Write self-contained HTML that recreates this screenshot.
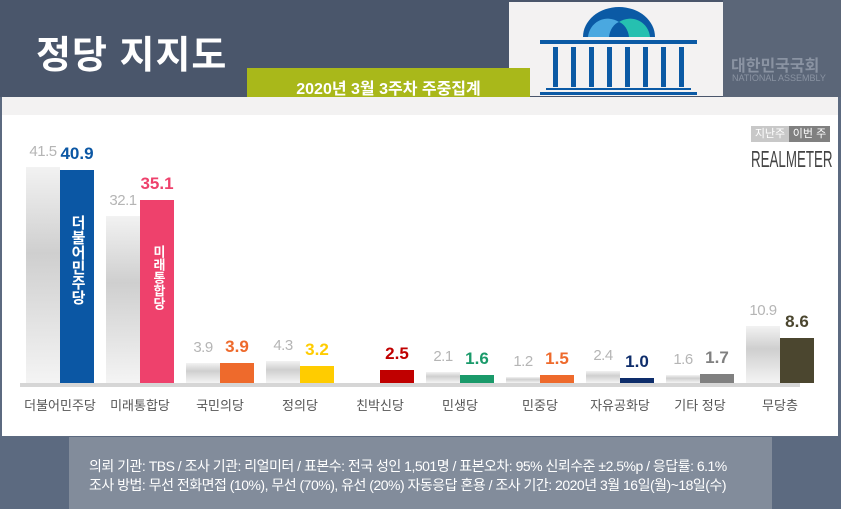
<!DOCTYPE html>
<html><head><meta charset="utf-8"><style>
*{margin:0;padding:0;box-sizing:border-box}
body{width:841px;height:509px;overflow:hidden;background:#fff;font-family:"Liberation Sans","Noto Sans CJK KR",sans-serif;position:relative}
.a{position:absolute}
.g{background:linear-gradient(180deg,#f2f2f2,#cfcfcf 40%,#f4f4f4)}
.vl{position:absolute;width:40px;text-align:center;font-size:15px;color:#b5b5b5;letter-spacing:-0.5px}
.vc{position:absolute;width:44px;text-align:center;font-size:17px;font-weight:bold}
.cl{position:absolute;width:90px;text-align:center;font-size:13px;color:#555;top:395px}
</style></head><body>
<div class="a" style="left:0;top:0;width:841px;height:97px;background:#4a566b"></div>
<div class="a" style="left:36px;top:24px;font-size:38px;font-weight:bold;color:#fff;letter-spacing:1px">정당 지지도</div>
<div class="a" style="left:509px;top:2px;width:214px;height:94px;background:#f3f2f2"></div>
<svg class="a" style="left:509px;top:0" width="214" height="97">
<path d="M74 37 A36 30 0 0 1 146 37 Z" fill="#0b5aa5"/>
<path d="M79 37 A20 20 0 0 1 110 22 A14 18 0 0 0 100 37Z" fill="#4aa8e0"/>
<path d="M141 37 A20 20 0 0 0 110 22 A14 18 0 0 1 120 37Z" fill="#26c0b0"/>
<rect x="31" y="40" width="157" height="4" fill="#0b5aa5"/>
<g fill="#0b5aa5"><rect x="44" y="47" width="5" height="40"/><rect x="62" y="47" width="5" height="40"/><rect x="80" y="47" width="5" height="40"/><rect x="98" y="47" width="5" height="40"/><rect x="116" y="47" width="5" height="40"/><rect x="134" y="47" width="5" height="40"/><rect x="152" y="47" width="5" height="40"/><rect x="170" y="47" width="5" height="40"/></g>
<rect x="37" y="88" width="145" height="2" fill="#0b5aa5"/><rect x="31" y="92" width="157" height="3" fill="#0b5aa5"/>
</svg>
<div class="a" style="left:723px;top:0;width:118px;height:97px;background:#5b6678"></div>
<div class="a" style="left:731px;top:52px;font-size:16px;color:#8a93a2;font-weight:bold">대한민국국회</div>
<div class="a" style="left:732px;top:73px;font-size:9px;color:#8a93a2">NATIONAL ASSEMBLY</div>
<div class="a" style="left:247px;top:68px;width:283px;height:34px;background:#a9b81a"></div>
<div class="a" style="left:247px;top:75px;width:283px;text-align:center;font-size:16px;font-weight:bold;color:#fff">2020년 3월 3주차 주중집계</div>
<div class="a" style="left:0;top:97px;width:841px;height:18px;background:#f3f2f2"></div>
<div class="a" style="left:0;top:97px;width:2px;height:340px;background:#5c6a80"></div>
<div class="a" style="left:838px;top:97px;width:3px;height:340px;background:#5c6a80"></div>
<div class="a" style="left:751px;top:126px;width:38px;height:16px;background:#c8c8c8;color:#fff;font-size:11px;text-align:center;line-height:16px">지난주</div>
<div class="a" style="left:789px;top:126px;width:41px;height:16px;background:#808080;color:#fff;font-size:11px;text-align:center;line-height:16px">이번 주</div>
<div class="a" style="left:751px;top:146px;font-size:23px;color:#444;transform:scaleX(0.58);transform-origin:left;white-space:nowrap">REALMETER</div>
<div class="a" style="left:20px;top:383px;width:780px;height:4px;background:#d6d6d6"></div>
<div id="c"></div>
<div class="a" style="left:0;top:436px;width:841px;height:73px;background:#5c6a80"></div>
<div class="a" style="left:69px;top:437px;width:703px;height:72px;background:#828c9b"></div>
<div class="a" style="left:89px;top:456px;font-size:14px;color:#fff;letter-spacing:-0.5px;white-space:nowrap">의뢰 기관: TBS / 조사 기관: 리얼미터 / 표본수: 전국 성인 1,501명 / 표본오차: 95% 신뢰수준 ±2.5%p / 응답률: 6.1%</div>
<div class="a" style="left:89px;top:475px;font-size:14px;color:#fff;letter-spacing:-0.5px;white-space:nowrap">조사 방법: 무선 전화면접 (10%), 무선 (70%), 유선 (20%) 자동응답 혼용 / 조사 기간: 2020년 3월 16일(월)~18일(수)</div>
<script>
var d=[["더불어민주당",41.5,40.9,"#0b57a4"],["미래통합당",32.1,35.1,"#ee416c"],["국민의당",3.9,3.9,"#ee6a2c"],["정의당",4.3,3.2,"#ffcc00"],["친박신당",null,2.5,"#c00000"],["민생당",2.1,1.6,"#1a9a6a"],["민중당",1.2,1.5,"#ee6a2c"],["자유공화당",2.4,1.0,"#0e2d6b"],["기타 정당",1.6,1.7,"#808080"],["무당층",10.9,8.6,"#4b462f"]];
var h="",B=383,k=5.2;
d.forEach(function(r,i){var c=60+80*i;
if(r[1]!==null){var hh=r[1]*k;h+='<div class="a g" style="left:'+(c-34)+'px;top:'+(B-hh)+'px;width:34px;height:'+hh+'px"></div><div class="vl" style="left:'+(c-37)+'px;top:'+(B-hh-24)+'px">'+r[1].toFixed(1)+'</div>';}
var h2=r[2]*k;h+='<div class="a" style="left:'+c+'px;top:'+(B-h2)+'px;width:34px;height:'+h2+'px;background:'+r[3]+'"></div><div class="vc" style="left:'+(c-5)+'px;top:'+(B-h2-26)+'px;color:'+(i==8?'#808080':r[3])+'">'+r[2].toFixed(1)+'</div>';
h+='<div class="cl" style="left:'+(c-45)+'px">'+r[0]+'</div>';});
h+='<div class="a" style="left:68px;top:215px;width:20px;color:#fff;font-weight:bold;font-size:15px;writing-mode:vertical-rl">더불어민주당</div>';
h+='<div class="a" style="left:148px;top:245px;width:20px;color:#fff;font-weight:bold;font-size:13px;writing-mode:vertical-rl">미래통합당</div>';
document.getElementById("c").innerHTML=h;
</script>
</body></html>
